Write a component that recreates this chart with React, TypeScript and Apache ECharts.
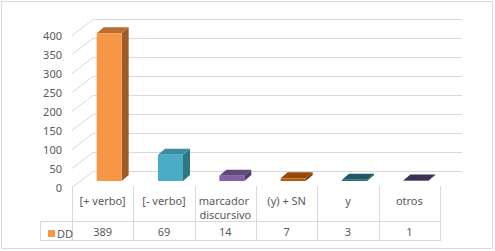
import React, { useEffect, useRef } from "react";
import * as echarts from "echarts";

const categories = ["[+ verbo]", "[- verbo]", "marcador discursivo", "(y) + SN", "y", "otros"];
const ddValues = [389, 69, 14, 7, 3, 1];
const yTicks = [0, 50, 100, 150, 200, 250, 300, 350, 400];
const seriesName = "DD";

const frontColors = ["#F79646", "#4BACC6", "#8064A2", "#B85A0B", "#2A6B7C", "#4A3A61"];
const topColors = ["#B86E31", "#3B8DA3", "#604A7B", "#974806", "#215867", "#3F3151"];
const sideColors = ["#A05C24", "#2F7487", "#4E3D65", "#7A3A05", "#1A4652", "#302640"];

const FONT = '"Noto Sans", sans-serif';
const TEXT = "#595959";
const LINE = "#D9D9D9";

export default function App() {
  const ref = useRef<HTMLDivElement>(null);
  useEffect(() => {
    if (!ref.current) return;
    const chart = echarts.init(ref.current, undefined, { renderer: "svg" });
    const crisp = (v: number) => Math.round(v) + 0.5;
    chart.setOption({
      animation: false,
      backgroundColor: "#FFFFFF",
      textStyle: { fontFamily: FONT },
      grid: [
        { left: 93, top: 19, width: 369, height: 152 },
        { left: 72, top: 35, width: 368, height: 152 },
      ],
      legend: {
        data: [seriesName],
        left: 43,
        top: 223,
        itemWidth: 7,
        itemHeight: 7,
        icon: "rect",
        selectedMode: false,
        textStyle: { color: TEXT, fontSize: 11, fontFamily: FONT, padding: [0, 0, 0, -3] },
      },
      xAxis: [
        { gridIndex: 0, type: "category", data: categories, show: false },
        {
          gridIndex: 1,
          type: "category",
          data: categories,
          axisLine: { show: false },
          axisTick: { show: false },
          axisLabel: {
            interval: 0,
            color: TEXT,
            fontSize: 11,
            fontFamily: FONT,
            margin: 6,
            lineHeight: 14,
            width: 58,
            overflow: "break",
          },
        },
      ],
      yAxis: [
        {
          gridIndex: 0,
          type: "value",
          min: 0,
          max: 400,
          interval: 50,
          axisLabel: { show: false },
          axisLine: { show: false },
          axisTick: { show: false },
          splitLine: { lineStyle: { color: LINE, width: 1 } },
        },
        {
          gridIndex: 1,
          type: "value",
          min: 0,
          max: 400,
          interval: 50,
          axisLine: { show: false },
          axisTick: { show: false },
          splitLine: { show: false },
          axisLabel: { color: TEXT, fontSize: 11, fontFamily: FONT, margin: 10 },
        },
      ],
      graphic: [
        { type: "rect", shape: { x: 1.5, y: 1.5, width: 491, height: 247 }, style: { fill: "none", stroke: LINE, lineWidth: 1 }, silent: true },
        { type: "line", shape: { x1: 40, y1: 221.5, x2: 440, y2: 221.5 }, style: { stroke: LINE, lineWidth: 1 }, silent: true },
        { type: "line", shape: { x1: 40, y1: 240.5, x2: 440, y2: 240.5 }, style: { stroke: LINE, lineWidth: 1 }, silent: true },
        { type: "line", shape: { x1: 40.5, y1: 221, x2: 40.5, y2: 241 }, style: { stroke: LINE, lineWidth: 1 }, silent: true },
      ],
      series: [
        {
          type: "custom",
          name: "walls",
          xAxisIndex: 0,
          yAxisIndex: 0,
          silent: true,
          clip: false,
          data: yTicks.map((t) => [0, t]),
          renderItem: (params: any, api: any) => {
            const y = api.coord([0, api.value(1)])[1];
            const x = params.coordSys.x;
            return {
              type: "line",
              shape: { x1: x, y1: crisp(y), x2: x - 21, y2: crisp(y) + 16 },
              style: { stroke: LINE, lineWidth: 1 },
            };
          },
        },
        {
          type: "custom",
          name: seriesName,
          xAxisIndex: 1,
          yAxisIndex: 1,
          clip: false,
          itemStyle: { color: "#F79646" },
          data: ddValues.map((v, i) => [i, v]),
          renderItem: (params: any, api: any) => {
            const i = api.value(0);
            const v = api.value(1);
            const base = api.coord([i, 0]);
            const top = api.coord([i, v]);
            const cx = base[0] + 6.5;
            const y0 = base[1] - 6;
            const y1 = top[1] - 6;
            const w = 25;
            const x0 = cx - w / 2;
            const x1 = cx + w / 2;
            const dx = 7;
            const dy = 6;
            return {
              type: "group",
              children: [
                {
                  type: "polygon",
                  shape: { points: [[x1, y1], [x1 + dx, y1 - dy], [x1 + dx, y0 - dy], [x1, y0]] },
                  style: { fill: sideColors[i] },
                },
                {
                  type: "polygon",
                  shape: { points: [[x0, y1], [x1, y1], [x1 + dx, y1 - dy], [x0 + dx, y1 - dy]] },
                  style: { fill: topColors[i] },
                },
                {
                  type: "rect",
                  shape: { x: x0, y: y1, width: w, height: Math.max(0, y0 - y1) },
                  style: { fill: frontColors[i] },
                },
              ],
            };
          },
        },
        {
          type: "custom",
          name: "table",
          xAxisIndex: 1,
          yAxisIndex: 1,
          clip: false,
          silent: true,
          data: ddValues.map((v, i) => [i, v]),
          renderItem: (params: any, api: any) => {
            const i = api.value(0);
            const v = api.value(1);
            const cx = api.coord([i, 0])[0];
            const bw = api.size([1, 0])[0];
            const children: any[] = [
              {
                type: "line",
                shape: { x1: crisp(cx - bw / 2), y1: 186, x2: crisp(cx - bw / 2), y2: 241 },
                style: { stroke: LINE, lineWidth: 1 },
              },
              {
                type: "text",
                x: cx,
                y: 231,
                style: { text: String(v), fill: TEXT, fontSize: 11, fontFamily: FONT, align: "center", verticalAlign: "middle" },
              },
            ];
            if (i === ddValues.length - 1) {
              children.push({
                type: "line",
                shape: { x1: crisp(cx + bw / 2), y1: 186, x2: crisp(cx + bw / 2), y2: 241 },
                style: { stroke: LINE, lineWidth: 1 },
              });
            }
            return { type: "group", children };
          },
        },
      ],
    });
    return () => chart.dispose();
  }, []);
  return (
    <div
      ref={ref}
      style={{ position: "fixed", left: 0, top: 0, width: 495, height: 251 }}
    />
  );
}
